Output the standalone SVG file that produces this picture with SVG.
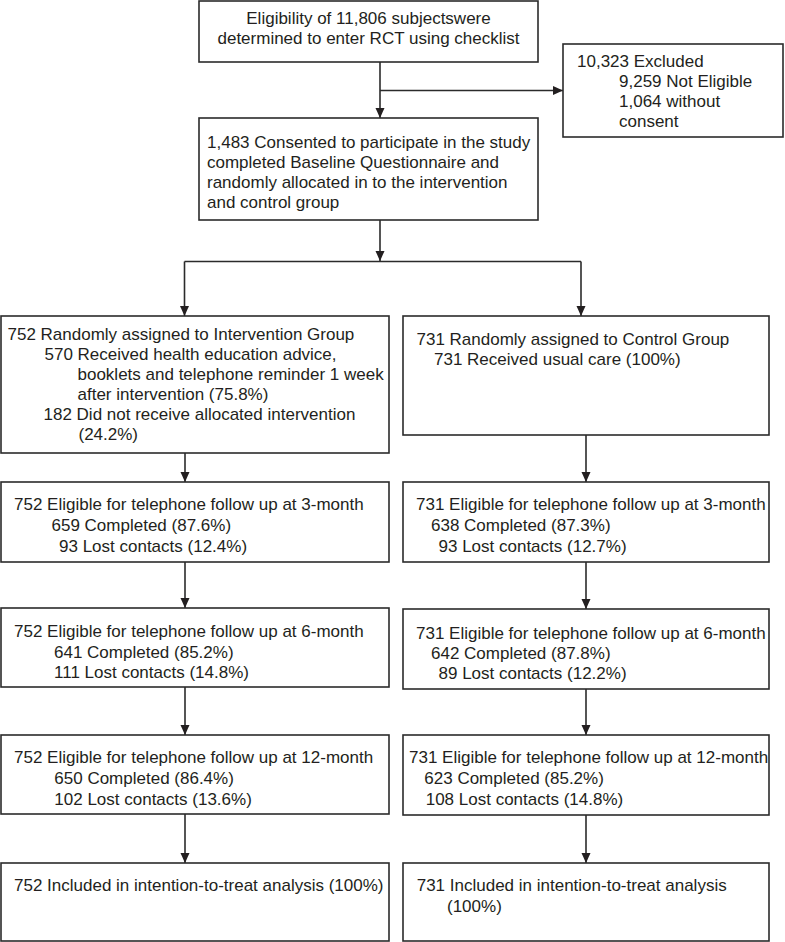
<svg xmlns="http://www.w3.org/2000/svg" width="785" height="942" viewBox="0 0 785 942">
<style>
  .box { fill: #ffffff; stroke: #2b2b2b; stroke-width: 1.6; }
  .t { font-family: "Liberation Sans", Arial, Helvetica, sans-serif; font-size: 17px; fill: #231f20; }
  .c { text-anchor: middle; }
  .con line { stroke: #2b2b2b; stroke-width: 1.6; fill: none; }
  .arr { marker-end: url(#ah); }
</style>
<defs>
  <marker id="ah" markerUnits="userSpaceOnUse" markerWidth="10" markerHeight="10" refX="10" refY="5" orient="auto">
    <path d="M0,0.5 L10,5 L0,9.5 Z" fill="#231f20"/>
  </marker>
</defs>
<rect x="0" y="0" width="785" height="942" fill="#ffffff"/>

<g id="connectors" class="con">
  <line class="arr" x1="380" y1="62" x2="380" y2="118"/>
  <line class="arr" x1="380" y1="90.5" x2="563" y2="90.5"/>
  <line class="arr" x1="380" y1="220" x2="380" y2="261"/>
  <line x1="184.5" y1="261.5" x2="581" y2="261.5"/>
  <line class="arr" x1="184.5" y1="261.5" x2="184.5" y2="316"/>
  <line class="arr" x1="581" y1="261.5" x2="581" y2="316"/>
  <line class="arr" x1="185" y1="453" x2="185" y2="482"/>
  <line class="arr" x1="586" y1="435" x2="586" y2="482"/>
  <line class="arr" x1="185" y1="562" x2="185" y2="608"/>
  <line class="arr" x1="586" y1="562" x2="586" y2="609"/>
  <line class="arr" x1="185" y1="687" x2="185" y2="735"/>
  <line class="arr" x1="586" y1="689" x2="586" y2="735"/>
  <line class="arr" x1="185" y1="814" x2="185" y2="863"/>
  <line class="arr" x1="586" y1="815" x2="586" y2="863"/>
</g>

<g id="eligibility">
  <rect class="box" x="199" y="1" width="339" height="61"/>
  <text class="t c" x="368.5" y="24">Eligibility of 11,806 subjectswere</text>
  <text class="t c" x="368.5" y="44">determined to enter RCT using checklist</text>
</g>

<g id="excluded">
  <rect class="box" x="563" y="44" width="220" height="93"/>
  <text class="t" x="577" y="67">10,323 Excluded</text>
  <text class="t" x="619" y="87">9,259 Not Eligible</text>
  <text class="t" x="619" y="107">1,064 without</text>
  <text class="t" x="619" y="127">consent</text>
</g>

<g id="consented">
  <rect class="box" x="199" y="118" width="339" height="102"/>
  <text class="t" x="207" y="148">1,483 Consented to participate in the study</text>
  <text class="t" x="207" y="168">completed Baseline Questionnaire and</text>
  <text class="t" x="207" y="188">randomly allocated in to the intervention</text>
  <text class="t" x="207" y="208">and control group</text>
</g>

<g id="intervention">
  <rect class="box" x="1" y="316" width="388" height="137"/>
  <text class="t" x="7.5" y="340">752 Randomly assigned to Intervention Group</text>
  <text class="t" x="44.5" y="360">570 Received health education advice,</text>
  <text class="t" x="77.5" y="380">booklets and telephone reminder 1 week</text>
  <text class="t" x="77.5" y="400">after intervention (75.8%)</text>
  <text class="t" x="43.5" y="420">182 Did not receive allocated intervention</text>
  <text class="t" x="78.5" y="440">(24.2%)</text>
</g>

<g id="control">
  <rect class="box" x="403" y="316" width="366" height="119"/>
  <text class="t" x="416.5" y="345">731 Randomly assigned to Control Group</text>
  <text class="t" x="434" y="365">731 Received usual care (100%)</text>
</g>

<g id="int-3m">
  <rect class="box" x="1" y="482" width="388" height="80"/>
  <text class="t" x="14" y="510">752 Eligible for telephone follow up at 3-month</text>
  <text class="t" x="51.5" y="531">659 Completed (87.6%)</text>
  <text class="t" x="59" y="552">93 Lost contacts (12.4%)</text>
</g>

<g id="ctl-3m">
  <rect class="box" x="403" y="482" width="366" height="80"/>
  <text class="t" x="416" y="510">731 Eligible for telephone follow up at 3-month</text>
  <text class="t" x="431" y="531">638 Completed (87.3%)</text>
  <text class="t" x="438.5" y="552">93 Lost contacts (12.7%)</text>
</g>

<g id="int-6m">
  <rect class="box" x="1" y="608" width="388" height="79"/>
  <text class="t" x="14" y="637">752 Eligible for telephone follow up at 6-month</text>
  <text class="t" x="54" y="658">641 Completed (85.2%)</text>
  <text class="t" x="54" y="678">111 Lost contacts (14.8%)</text>
</g>

<g id="ctl-6m">
  <rect class="box" x="403" y="609" width="366" height="80"/>
  <text class="t" x="416" y="639">731 Eligible for telephone follow up at 6-month</text>
  <text class="t" x="431" y="659">642 Completed (87.8%)</text>
  <text class="t" x="438.5" y="679">89 Lost contacts (12.2%)</text>
</g>

<g id="int-12m">
  <rect class="box" x="1" y="735" width="388" height="79"/>
  <text class="t" x="14" y="763">752 Eligible for telephone follow up at 12-month</text>
  <text class="t" x="54.3" y="784">650 Completed (86.4%)</text>
  <text class="t" x="54.3" y="805">102 Lost contacts (13.6%)</text>
</g>

<g id="ctl-12m">
  <rect class="box" x="403" y="735" width="366" height="80"/>
  <text class="t" x="409" y="763">731 Eligible for telephone follow up at 12-month</text>
  <text class="t" x="424.3" y="784">623 Completed (85.2%)</text>
  <text class="t" x="425.7" y="805">108 Lost contacts (14.8%)</text>
</g>

<g id="int-itt">
  <rect class="box" x="1" y="863" width="388" height="78"/>
  <text class="t" x="14" y="891">752 Included in intention-to-treat analysis (100%)</text>
</g>

<g id="ctl-itt">
  <rect class="box" x="403" y="863" width="366" height="78"/>
  <text class="t" x="416.7" y="891">731 Included in intention-to-treat analysis</text>
  <text class="t" x="447" y="912">(100%)</text>
</g>
</svg>
